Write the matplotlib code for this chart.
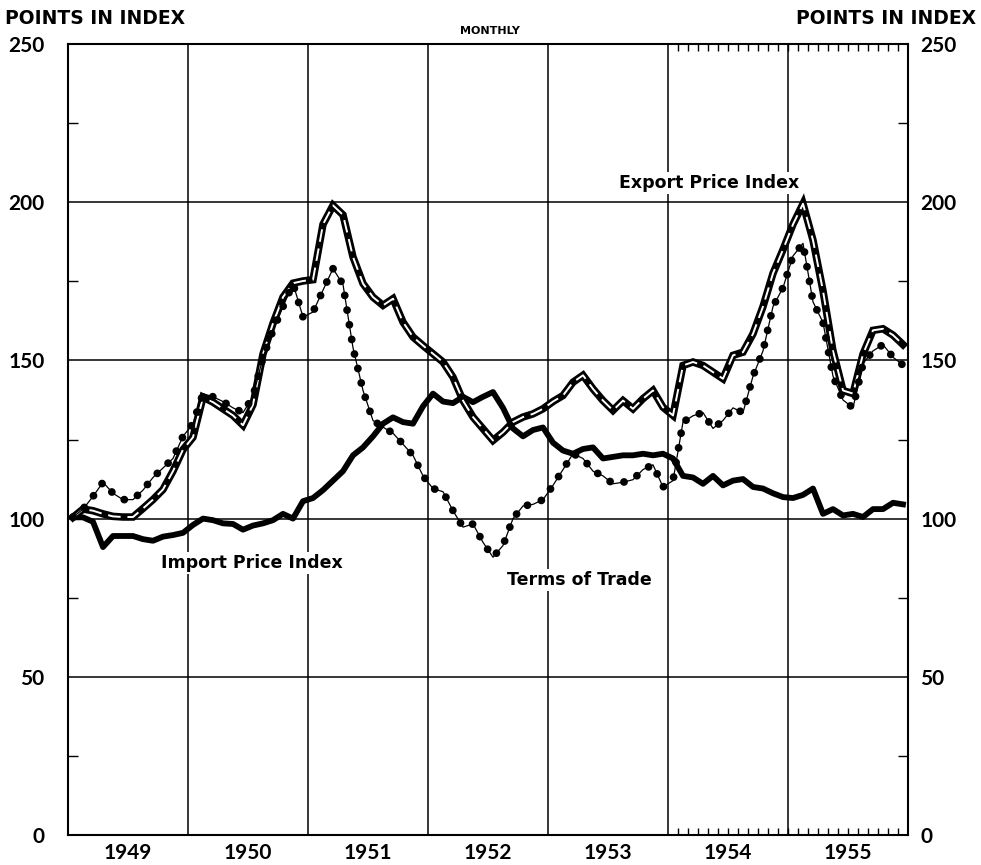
import numpy as np
import pandas as pd
import matplotlib
matplotlib.use("Agg")
import matplotlib.pyplot as plt

# monthly index values, Jan 1949 .. Dec 1955
months = pd.date_range("1949-01-01", periods=84, freq="MS")

export_idx = [100.4, 103, 102.5, 101.5, 100.7, 100.5, 100.5, 103.2, 106, 109.2, 115, 121.8,
              125.7, 138.4, 136.8, 134.7, 132.6, 129.5, 136, 152, 161.7, 170, 174.4, 175.1,
              175.5, 193, 199, 196, 182.7, 174.3, 170, 167.4, 169.5, 162.1, 157.4, 154.7,
              152.1, 149.5, 144.7, 137.3, 132.1, 128.4, 124.7, 127.3, 130.5, 132.1, 133.1, 134.7,
              137, 138.9, 143.1, 145.3, 141, 137.3, 134.2, 137.3, 134.7, 137.9, 140.5, 135.2,
              132.6, 148.4, 149.5, 148.4, 146.3, 144.2, 151.6, 152.6, 158.4, 167, 177.5, 185,
              193, 199.5, 188, 172, 153, 140.5, 139.5, 152, 159.5, 160, 158, 155]

import_idx = [100.4, 100.4, 99, 91, 94.5, 94.5, 94.5, 93.5, 93, 94.3, 94.8, 95.5,
              98, 100, 99.5, 98.5, 98.3, 96.5, 97.8, 98.5, 99.5, 101.5, 100, 105.5,
              106.5, 109, 112, 115, 120, 122.5, 126, 130, 132, 130.5, 130, 135.5,
              139.5, 137, 136.5, 138.5, 136.8, 138.5, 140, 135, 128.5, 126, 128, 128.8,
              124, 121.5, 120.5, 122, 122.5, 119, 119.5, 120, 120, 120.5, 120, 120.5,
              119, 113.5, 113, 111, 113.5, 110.5, 112, 112.5, 110, 109.5, 108, 106.8,
              106.5, 107.5, 109.5, 101.5, 103, 101, 101.5, 100.5, 103, 103, 105, 104.5]

terms_idx = [100.5, 103, 107, 111.5, 108, 106, 106, 109, 113, 116, 119, 126,
             130, 139.5, 138.5, 137, 135, 133.5, 138.5, 151, 159.5, 167, 174.3, 163.7,
             165.3, 172.2, 179, 174, 154, 140.5, 131, 128.9, 127, 123.5, 120, 113.5,
             109.5, 108.5, 102.5, 97.3, 98.3, 92.5, 87.8, 91.5, 100, 104, 104.5, 106,
             110.5, 115.5, 120.5, 119, 115, 113.5, 111, 111.5, 112.3, 115.5, 117, 110,
             112, 130.5, 132.5, 133.5, 128.5, 131, 135, 133.5, 145, 153, 167, 173,
             183, 187, 168.5, 162, 145, 137.5, 135, 149, 153, 155, 151, 148.5]

years = [1949, 1950, 1951, 1952, 1953, 1954, 1955]
y_ticks = [0, 50, 100, 150, 200, 250]

# decimal year at mid-month
x = months.year + (months.month - 0.5) / 12

num_font = ['Lato', 'DejaVu Sans']
word_font = ['DejaVu Sans']

fig = plt.figure(figsize=(9.81, 8.65), dpi=100)
ax = fig.add_axes([68 / 981, 30 / 865, 840 / 981, 791 / 865])
ax2 = ax.twinx()

ax.set_xlim(1949, 1956)
ax.set_ylim(0, 250)

# grid
for yv in y_ticks[1:-1]:
    ax.axhline(yv, color='black', lw=1.1, zorder=1)
for yr in years[1:]:
    ax.axvline(yr, color='black', lw=1.1, zorder=1)

# export: heavy black line with white dashed core
ax.plot(x, export_idx, color='black', lw=5.4, solid_joinstyle='miter', zorder=3)
ax.plot(x, export_idx, color='white', lw=1.4, ls=(0, (6.5, 3.5)), zorder=4)

# import: heavy solid line
ax.plot(x, import_idx, color='black', lw=4.2, solid_joinstyle='round', zorder=3)

# terms of trade: thin line with dots
ax.plot(x, terms_idx, color='black', lw=0.9, zorder=5)
ax.plot(x, terms_idx, color='black', lw=5.6, ls=(0, (0.01, 1.9)),
        dash_capstyle='round', zorder=5)

# axes and ticks
for s in ax.spines.values():
    s.set_linewidth(1.5)
ax.set_yticks(y_ticks)
ax.set_yticks(np.arange(25, 250, 50), minor=True)
ax.set_xticks([])
ax.set_xticks(np.arange(1954, 1956.001, 1 / 12)[1:-1], minor=True)
ax.tick_params(which='major', axis='y', length=0, labelsize=15, pad=17)
ax.tick_params(which='minor', axis='y', direction='in', length=7, width=1.0,
               left=True, right=True)
ax.tick_params(which='minor', axis='x', direction='in', length=5, width=1.0,
               top=True, bottom=True)
for lab in ax.get_yticklabels():
    lab.set_fontweight('bold')
    lab.set_family(num_font)

ax2.set_ylim(0, 250)
ax2.set_yticks(y_ticks)
ax2.tick_params(axis='y', length=0, labelsize=15, pad=9)
for lab in ax2.get_yticklabels():
    lab.set_fontweight('bold')
    lab.set_family(num_font)
for s in ax2.spines.values():
    s.set_visible(False)

for yr in years:
    ax.text(yr + 0.5, -0.01, str(yr), transform=ax.get_xaxis_transform(),
            ha='center', va='top', fontsize=15, fontweight='bold', family=num_font)

# titles
fig.text(5 / 981, 1 - 18 / 865, "POINTS IN INDEX", ha='left', va='center',
         fontsize=13.5, fontweight='bold', family=word_font)
fig.text(976 / 981, 1 - 18 / 865, "POINTS IN INDEX", ha='right', va='center',
         fontsize=13.5, fontweight='bold', family=word_font)
fig.text(490 / 981, 1 - 31 / 865, "MONTHLY", ha='center', va='center',
         fontsize=8, fontweight='bold', family=word_font)

# series labels
box = dict(facecolor='white', edgecolor='none', pad=1.5)
ax.text(1954.34, 206, "Export Price Index", ha='center', va='center',
        fontsize=12.5, fontweight='bold', family=word_font, bbox=box, zorder=6)
ax.text(1950.53, 86, "Import Price Index", ha='center', va='center',
        fontsize=12.5, fontweight='bold', family=word_font, bbox=box, zorder=6)
ax.text(1953.26, 80.5, "Terms of Trade", ha='center', va='center',
        fontsize=12.5, fontweight='bold', family=word_font, bbox=box, zorder=6)

fig.savefig("out.png", dpi=100)
